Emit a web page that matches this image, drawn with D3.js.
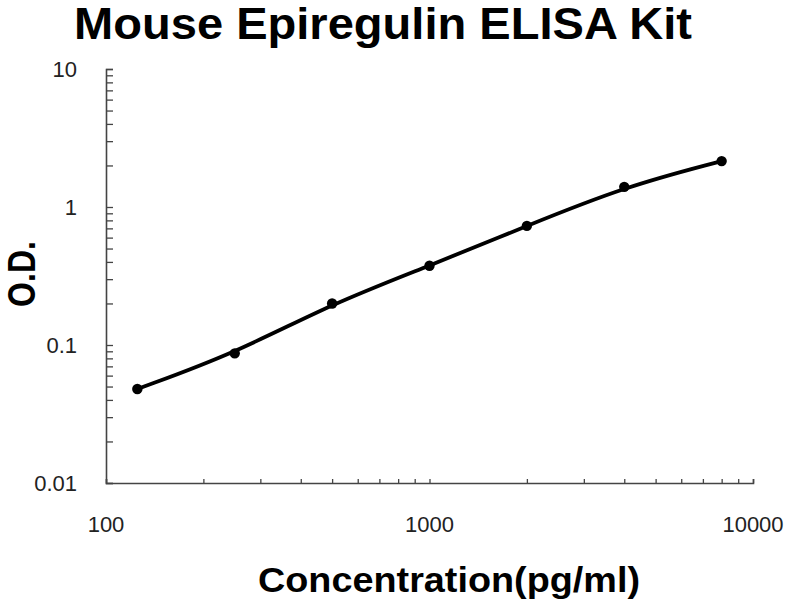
<!DOCTYPE html>
<html><head><meta charset="utf-8">
<script src="https://cdn.jsdelivr.net/npm/d3@7"></script>
<style>body{margin:0;background:#fff}svg{display:block}</style>
</head><body>
<svg id="c" width="800" height="600"></svg>
<script>
const title = "Mouse Epiregulin ELISA Kit";
const xLabel = "Concentration(pg/ml)";
const yLabel = "O.D.";
const concentrations = [125, 250, 500, 1000, 2000, 4000, 8000];
const odValues = [0.048, 0.087, 0.2, 0.375, 0.73, 1.4, 2.15];
const xTickValues = [100, 1000, 10000];
const yTickValues = [0.01, 0.1, 1, 10];

const FONT = "Liberation Sans, Arial, sans-serif";
const svg = d3.select("#c");
const x = d3.scaleLog().domain([100, 10000]).range([106, 753]);
const y = d3.scaleLog().domain([0.01, 10]).range([483, 69]);

// minor ticks
const xMinor = [], yMinor = [];
for (let d = 100; d < 10000; d *= 10) for (let k = 2; k <= 9; k++) xMinor.push(d * k);
for (let d = 0.01; d < 10; d *= 10) for (let k = 2; k <= 9; k++) yMinor.push(+(d * k).toPrecision(3));

const g = svg.append("g");
// y axis
const yAxis = g.append("g").attr("transform", "translate(106,0)")
  .call(d3.axisRight(y).tickValues(yMinor.concat(yTickValues)).tickSize(7).tickFormat(""));
yAxis.selectAll("line").attr("stroke", "#444").attr("stroke-width", 1.3);
yAxis.select(".domain").attr("stroke", "#444").attr("stroke-width", 1.6);
// x axis
const xAxis = g.append("g").attr("transform", "translate(0,483)")
  .call(d3.axisTop(x).tickValues(xMinor.concat(xTickValues)).tickSize(4).tickFormat(""));
xAxis.selectAll("line").attr("stroke", "#444").attr("stroke-width", 1.3);
xAxis.select(".domain").attr("stroke", "#444").attr("stroke-width", 1.6);

// tick labels
g.selectAll(".yl").data(yTickValues).join("text")
  .attr("x", 77).attr("y", d => y(d)).attr("dy", "0.35em")
  .attr("text-anchor", "end").attr("font-family", FONT)
  .attr("font-size", 22).attr("fill", "#222").text(d => d);
g.selectAll(".xl").data(xTickValues).join("text")
  .attr("x", d => x(d)).attr("y", 532)
  .attr("text-anchor", "middle").attr("font-family", FONT)
  .attr("font-size", 22).attr("fill", "#222").text(d => d);

// curve
const pts = concentrations.map((c, i) => [c, odValues[i]]);
const line = d3.line().x(d => x(d[0])).y(d => y(d[1])).curve(d3.curveBasis);
g.append("path").datum(pts)
  .attr("fill", "none").attr("stroke", "#000").attr("stroke-width", 3.8)
  .attr("stroke-linecap", "round").attr("d", line);
g.selectAll("circle").data(pts).join("circle")
  .attr("cx", d => x(d[0])).attr("cy", d => y(d[1])).attr("r", 5.2).attr("fill", "#000");

// titles
svg.append("text").attr("x", 383).attr("y", 39).attr("text-anchor", "middle")
  .attr("font-family", FONT).attr("font-weight", "bold")
  .attr("font-size", 44).attr("textLength", 618).attr("lengthAdjust", "spacingAndGlyphs")
  .attr("fill", "#000").text(title);
svg.append("text").attr("x", 449).attr("y", 592).attr("text-anchor", "middle")
  .attr("font-family", FONT).attr("font-weight", "bold")
  .attr("font-size", 35).attr("textLength", 382).attr("lengthAdjust", "spacingAndGlyphs")
  .attr("fill", "#000").text(xLabel);
svg.append("text").attr("transform", "translate(35,274) scale(1.2,1) rotate(-90)").attr("text-anchor", "middle")
  .attr("font-family", FONT).attr("font-weight", "bold")
  .attr("font-size", 32).attr("fill", "#000").text(yLabel);
</script>
</body></html>
